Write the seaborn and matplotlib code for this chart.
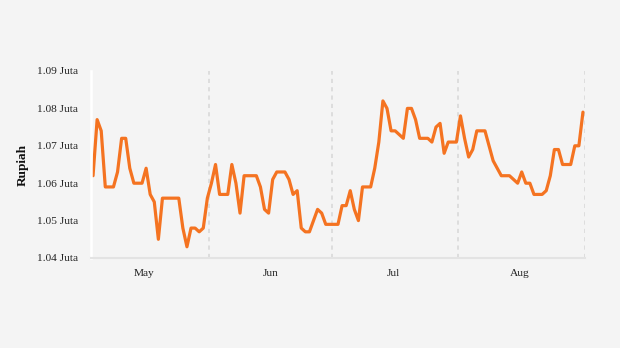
import matplotlib
matplotlib.use("Agg")
import matplotlib.pyplot as plt
import matplotlib.dates as mdates
import matplotlib.ticker as mticker
import pandas as pd
import seaborn as sns

# Daily price, 3 May - 31 Aug (Rupiah)
start_date = "2023-05-03"
end_date = "2023-08-31"
prices = [
    1062000, 1077000, 1074000, 1059000, 1059000, 1059000, 1063000, 1072000,
    1072000, 1064000, 1060000, 1060000, 1060000, 1064000, 1057000, 1055000,
    1045000, 1056000, 1056000, 1056000, 1056000, 1056000, 1048000, 1043000,
    1048000, 1048000, 1047000, 1048000, 1056000, 1060000, 1065000, 1057000,
    1057000, 1057000, 1065000, 1060000, 1052000, 1062000, 1062000, 1062000,
    1062000, 1059000, 1053000, 1052000, 1061000, 1063000, 1063000, 1063000,
    1061000, 1057000, 1058000, 1048000, 1047000, 1047000, 1050000, 1053000,
    1052000, 1049000, 1049000, 1049000, 1049000, 1054000, 1054000, 1058000,
    1053000, 1050000, 1059000, 1059000, 1059000, 1064000, 1071000, 1082000,
    1080000, 1074000, 1074000, 1073000, 1072000, 1080000, 1080000, 1077000,
    1072000, 1072000, 1072000, 1071000, 1075000, 1076000, 1068000, 1071000,
    1071000, 1071000, 1078000, 1072000, 1067000, 1069000, 1074000, 1074000,
    1074000, 1070000, 1066000, 1064000, 1062000, 1062000, 1062000, 1061000,
    1060000, 1063000, 1060000, 1060000, 1057000, 1057000, 1057000, 1058000,
    1062000, 1069000, 1069000, 1065000, 1065000, 1065000, 1070000, 1070000,
    1079000,
]
y_ticks = [1040000, 1050000, 1060000, 1070000, 1080000, 1090000]
y_label = "Rupiah"

BG = "#f4f4f4"
LINE = "#f47321"

sns.set_theme(style="white")
plt.rcParams["font.family"] = ["Liberation Serif", "DejaVu Serif"]

fig = plt.figure(figsize=(6.2, 3.48), dpi=100, facecolor=BG)
ax = fig.add_axes([91 / 620, 1 - 258 / 348, (585 - 91) / 620, (258 - 71) / 348])
ax.set_facecolor(BG)

# each daily price is drawn at mid-day
df = pd.DataFrame({
    "date": pd.date_range(start_date, end_date, freq="D") + pd.Timedelta(hours=12),
    "price": prices,
})
sns.lineplot(data=df, x="date", y="price", color=LINE, linewidth=2.3, ax=ax)

ax.set_xlim(pd.Timestamp("2023-05-03"), pd.Timestamp("2023-09-01"))
ax.set_ylim(y_ticks[0], y_ticks[-1])

# month names centred in each month, dashed separators at month starts
ax.xaxis.set_major_locator(mdates.DayLocator(bymonthday=16))
ax.xaxis.set_major_formatter(mdates.DateFormatter("%b"))
ax.xaxis.set_minor_locator(mdates.MonthLocator())
ax.grid(which="minor", axis="x", color="#d9d9d9", linestyle=(0, (2.5, 2.5)), linewidth=1.2)
ax.grid(which="major", axis="both", visible=False)
ax.tick_params(axis="x", which="major", length=0, pad=8, labelsize=8.2, labelcolor="#222222")
ax.tick_params(axis="x", which="minor", length=4, width=1.2, color="#d9d9d9", direction="out")

ax.set_yticks(y_ticks)
ax.yaxis.set_major_formatter(mticker.FuncFormatter(lambda v, _: f"{v / 1e6:.2f} Juta"))
ax.tick_params(axis="y", length=4.5, width=1.5, color="white", pad=5, labelsize=8.2, labelcolor="#222222")

for side in ("top", "right"):
    ax.spines[side].set_visible(False)
ax.spines["left"].set_color("white")
ax.spines["left"].set_linewidth(1.8)
ax.spines["bottom"].set_color("#e3e3e3")
ax.spines["bottom"].set_linewidth(1.5)

ax.set_xlabel("")
ax.set_ylabel(y_label, fontsize=9.5, fontweight="bold", color="#111111")
ax.yaxis.set_label_coords((29 - 91) / 494, 0.5)

fig.savefig("out.png", dpi=100, facecolor=BG)
